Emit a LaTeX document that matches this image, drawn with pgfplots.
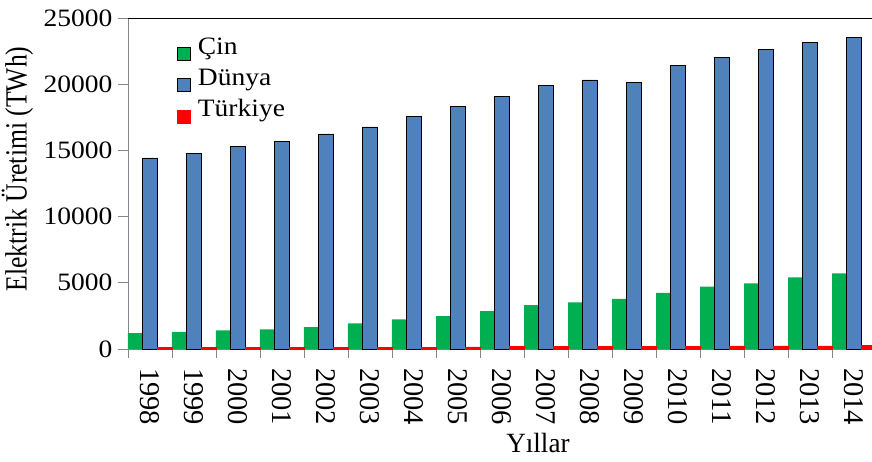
\documentclass[border=0pt]{standalone}
\usepackage{pgfplots}
\pgfplotsset{compat=1.18}
\usepackage{fontspec}
\setmainfont{Liberation Serif}[FakeStretch=1.1]
\newfontfamily\rotfont{Liberation Serif}
\usepackage{graphicx}
\definecolor{cgreen}{RGB}{0,176,80}
\definecolor{cblue}{RGB}{79,129,189}
\definecolor{cred}{RGB}{255,0,0}
\definecolor{cgray}{RGB}{134,134,134}
\newcommand\xl[1]{\resizebox{57pt}{19pt}{\rotfont #1}}
\begin{document}
\begin{tikzpicture}
\begin{axis}[
  scale only axis,
  width=744pt, height=331pt,
  xmin=-0.5, xmax=16.409,
  ymin=0, ymax=25000,
  ybar=0pt, bar width=14.67pt,
  clip mode=individual,
  axis x line*=bottom, axis y line*=left,
  axis line style={cgray, line width=0.8pt},
  tick align=outside,
  xtick={0,...,16},
  xticklabels={\xl{1998},\xl{1999},\xl{2000},\xl{2001},\xl{2002},\xl{2003},\xl{2004},\xl{2005},\xl{2006},\xl{2007},\xl{2008},\xl{2009},\xl{2010},\xl{2011},\xl{2012},\xl{2013},\xl{2014}},
  major x tick style={draw=none},
  minor xtick={-0.5,0.5,...,16.5},
  minor x tick style={cgray, line width=0.8pt},
  minor tick length=9pt,
  ytick={0,5000,...,25000},
  scaled y ticks=false,
  major y tick style={cgray, line width=0.8pt},
  major tick length=10pt,
  yticklabel={{\fontsize{25}{30}\selectfont\pgfmathprintnumber[1000 sep={},assume math mode=true]{\tick}}},
  yticklabel style={xshift=-2pt},
  xticklabel style={rotate=-90, anchor=west, inner sep=0pt},
  xticklabel shift=9pt,
  xlabel={\fontsize{26.5}{30}\selectfont\scalebox{0.93}[1.05]{Yıllar}},
  xlabel style={at={(axis description cs:0.551,-0.314)}, anchor=base},
  ylabel={\resizebox{245pt}{!}{\scalebox{1}[1.2]{\rotfont Elektrik Üretimi (TWh)}}},
  ylabel style={at={(axis description cs:-0.1485,0.5438)}, anchor=center},
  legend style={draw=none, fill=none, at={(axis description cs:0.0659,0.9456)}, anchor=north west,
    inner sep=0pt, row sep=7pt, column sep=0pt,
    font=\fontsize{25}{30}\selectfont,
    nodes={text height=18pt, text depth=6pt, inner sep=0pt, anchor=base west}},
  legend cell align=left,
  legend image code/.code={\draw[#1,/tikz/.cd,yshift=0pt] (0pt,-6pt) rectangle (13pt,7pt);},
]
\addplot[fill=cgreen, draw=none] coordinates {
(0,1200) (1,1300) (2,1400) (3,1480) (4,1660) (5,1940) (6,2240) (7,2490) (8,2870) (9,3320) (10,3530) (11,3780) (12,4230) (13,4710) (14,4960) (15,5410) (16,5720)};
\addplot[fill=cblue, draw=black, line width=0.8pt] coordinates {
(0,14430) (1,14800) (2,15330) (3,15710) (4,16240) (5,16770) (6,17540) (7,18300) (8,19050) (9,19930) (10,20320) (11,20150) (12,21390) (13,22040) (14,22630) (15,23160) (16,23530)};
\addplot[fill=cred, draw=cred, line width=0.4pt] coordinates {
(0,111) (1,116) (2,125) (3,123) (4,129) (5,141) (6,151) (7,162) (8,176) (9,191) (10,198) (11,195) (12,211) (13,229) (14,240) (15,240) (16,252)};
\legend{\ Çin,\ Dünya,\ Türkiye}
\draw[black, line width=0.9pt] (rel axis cs:0,1) -- (rel axis cs:1,1);
\coordinate (BL) at (rel axis cs:0,0);
\coordinate (TR) at (rel axis cs:1,1);
\end{axis}
\pgfresetboundingbox
\useasboundingbox ([xshift=-128pt,yshift=-112pt]BL) rectangle ([yshift=18pt]TR);
\end{tikzpicture}
\end{document}
